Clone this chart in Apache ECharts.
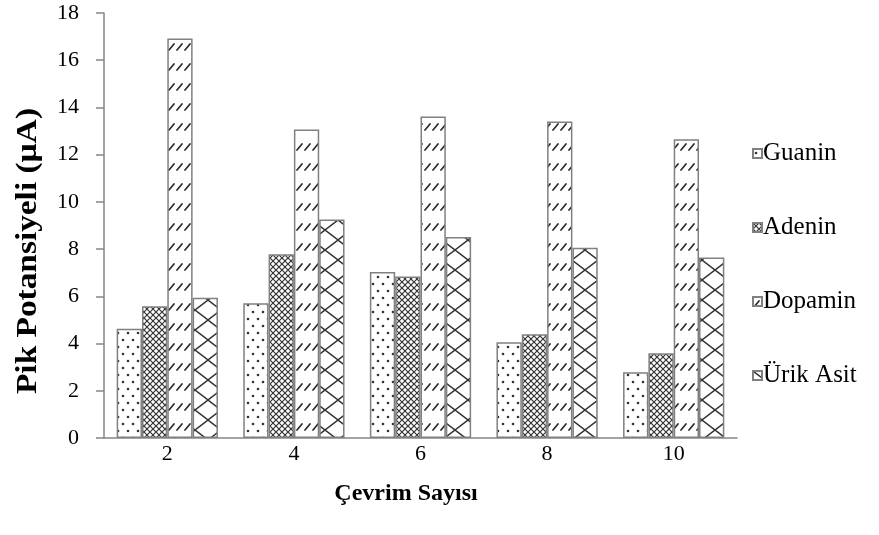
<!DOCTYPE html>
<html>
<head>
<meta charset="utf-8">
<script src="https://cdn.jsdelivr.net/npm/echarts@6/dist/echarts.min.js"></script>
<style>
  html, body { margin: 0; padding: 0; background: #fff; }
  #chart { width: 879px; height: 535px; }
</style>
</head>
<body>
<div id="chart"></div>
<script>
// Cycle counts on the x axis
const cycles = ['2', '4', '6', '8', '10'];
// Peak currents (µA) per analyte
const guanin  = [4.63, 5.71, 7.03, 4.06, 2.79];
const adenin  = [5.58, 7.78, 6.84, 4.39, 3.59];
const dopamin = [16.92, 13.07, 13.62, 13.41, 12.65];
const urikAsit = [5.94, 9.25, 8.51, 8.06, 7.65];
const seriesNames = ['Guanin', 'Adenin', 'Dopamin', 'Ürik Asit'];
const yTicks = { min: 0, max: 18, interval: 2 };

const FONT = '"Liberation Serif", "Times New Roman", serif';
const INK = '#333333';

// Build a repeating fill tile on an offscreen canvas
function tile(w, h, draw) {
  const c = document.createElement('canvas');
  c.width = w; c.height = h;
  const g = c.getContext('2d');
  g.fillStyle = '#ffffff';
  g.fillRect(0, 0, w, h);
  g.fillStyle = INK;
  g.strokeStyle = INK;
  draw(g, w, h);
  return { image: c, repeat: 'repeat' };
}

// sparse staggered dots
const dotFill = tile(10, 14, (g) => {
  g.beginPath(); g.arc(3, 4, 1.3, 0, Math.PI * 2); g.fill();
  g.beginPath(); g.arc(8, 11, 1.3, 0, Math.PI * 2); g.fill();
});
// dense small crosshatch
const denseFill = tile(6, 6, (g) => {
  g.lineWidth = 1.2;
  g.beginPath();
  g.moveTo(0, 0); g.lineTo(6, 6);
  g.moveTo(6, 0); g.lineTo(0, 6);
  g.stroke();
});
// rows of short upward dashes
const dashFill = tile(8, 20, (g) => {
  g.strokeStyle = '#2a2a2a';
  g.lineWidth = 1.7;
  g.lineCap = 'round';
  g.beginPath();
  g.moveTo(1, 10); g.lineTo(6, 4);
  g.stroke();
});
// large diamond lattice
const diamondFill = tile(26, 20, (g) => {
  g.lineWidth = 1.4;
  g.beginPath();
  g.moveTo(0, 0); g.lineTo(26, 20);
  g.moveTo(26, 0); g.lineTo(0, 20);
  g.stroke();
});

const fills = [dotFill, denseFill, dashFill, diamondFill];
const values = [guanin, adenin, dopamin, urikAsit];

const chart = echarts.init(document.getElementById('chart'), null, { renderer: 'canvas' });

chart.setOption({
  animation: false,
  backgroundColor: '#ffffff',
  grid: { left: 104, right: 142, top: 13, bottom: 97, containLabel: false },
  legend: {
    orient: 'vertical',
    left: 747,
    top: 136,
    itemWidth: 9,
    itemHeight: 9,
    itemGap: 49,
    icon: 'rect',
    textStyle: { fontFamily: FONT, fontSize: 25, color: '#000', padding: [0, 0, 0, -4] },
    data: seriesNames
  },
  xAxis: {
    type: 'category',
    data: cycles,
    axisLine: { lineStyle: { color: '#868686', width: 1.5 } },
    axisTick: { show: false },
    axisLabel: { fontFamily: FONT, fontSize: 22, color: '#000', margin: 5 }
  },
  yAxis: {
    type: 'value',
    min: yTicks.min,
    max: yTicks.max,
    interval: yTicks.interval,
    axisLine: { show: true, lineStyle: { color: '#868686', width: 1.5 } },
    axisTick: { show: true, inside: false, length: 8, lineStyle: { color: '#868686', width: 1.5 } },
    splitLine: { show: false },
    axisLabel: { fontFamily: FONT, fontSize: 22, color: '#000', margin: 25 }
  },
  graphic: [
    {
      type: 'text',
      x: 29, y: 251,
      rotation: Math.PI / 2,
      scaleX: 1.15,
      style: {
        text: 'Pik Potansiyeli (µA)',
        font: 'bold 29px ' + FONT,
        fill: '#000',
        align: 'center',
        verticalAlign: 'middle'
      }
    },
    {
      type: 'text',
      x: 406, y: 494,
      style: {
        text: 'Çevrim Sayısı',
        font: 'bold 24px ' + FONT,
        fill: '#000',
        align: 'center',
        verticalAlign: 'middle'
      }
    }
  ],
  series: seriesNames.map((name, i) => ({
    name: name,
    type: 'bar',
    data: values[i],
    barGap: '0%',
    barCategoryGap: '20%',
    itemStyle: { color: fills[i], borderColor: '#808080', borderWidth: 1.5 }
  }))
});
</script>
</body>
</html>
